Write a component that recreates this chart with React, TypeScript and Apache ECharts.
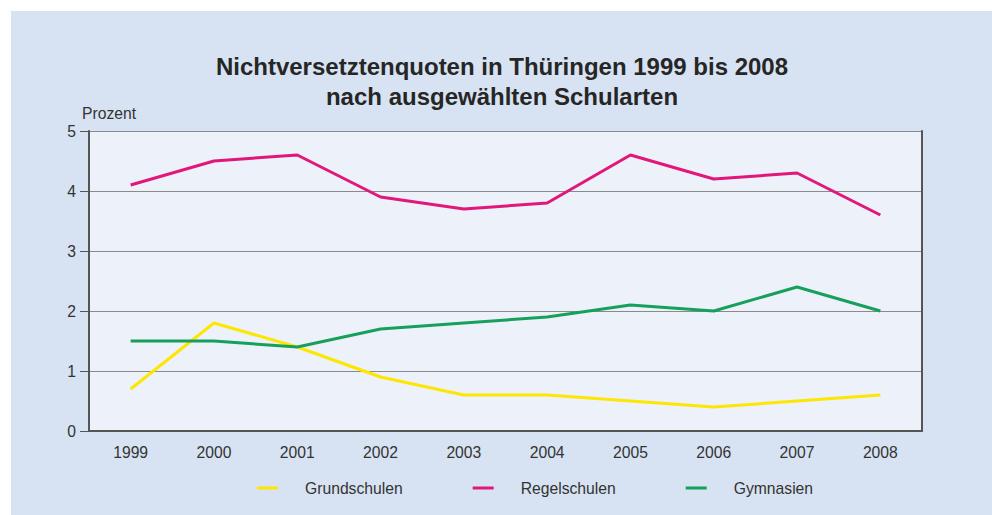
import React, { useEffect, useRef } from "react";
import * as echarts from "echarts";

const years = ["1999", "2000", "2001", "2002", "2003", "2004", "2005", "2006", "2007", "2008"];
const grundschulen = [0.7, 1.8, 1.4, 0.9, 0.6, 0.6, 0.5, 0.4, 0.5, 0.6];
const regelschulen = [4.1, 4.5, 4.6, 3.9, 3.7, 3.8, 4.6, 4.2, 4.3, 3.6];
const gymnasien = [1.5, 1.5, 1.4, 1.7, 1.8, 1.9, 2.1, 2.0, 2.4, 2.0];
const seriesNames = ["Grundschulen", "Regelschulen", "Gymnasien"];
const titleText = "Nichtversetztenquoten in Thüringen 1999 bis 2008\nnach ausgewählten Schularten";
const unitLabel = "Prozent";

const FONT = "'Liberation Sans', Arial, Helvetica, sans-serif";
const COLORS = ["#fde600", "#e2177b", "#17a05b"];

export default function App() {
  const ref = useRef<HTMLDivElement>(null);
  useEffect(() => {
    if (!ref.current) return;
    const chart = echarts.init(ref.current, undefined, { renderer: "svg" });
    const mk = (name: string, data: number[], color: string) => ({
      name,
      type: "line",
      data,
      symbol: "none",
      lineStyle: { color, width: 3 },
      itemStyle: { color },
      z: 3,
    });
    chart.setOption({
      animation: false,
      backgroundColor: "#d7e3f2",
      textStyle: { fontFamily: FONT },
      title: {
        text: titleText,
        left: 491,
        top: 40,
        padding: 0,
        textAlign: "center",
        textStyle: { fontFamily: FONT, fontSize: 24, fontWeight: "bold", lineHeight: 30, color: "#262626" },
      },
      legend: {
        left: 241,
        top: 464,
        itemWidth: 21,
        itemHeight: 3,
        itemGap: 70,
        icon: "rect",
        textStyle: { fontFamily: FONT, fontSize: 15.7, color: "#333", padding: [0, 0, 0, 22] },
        data: seriesNames,
      },
      graphic: [
        {
          type: "text",
          left: 71,
          top: 94,
          style: { text: unitLabel, font: `15.7px ${FONT}`, fill: "#333" },
        },
      ],
      grid: {
        left: 78,
        top: 120,
        right: 70,
        bottom: 84,
        show: true,
        backgroundColor: "#edf1fa",
        borderWidth: 0,
      },
      xAxis: {
        type: "category",
        data: years,
        boundaryGap: true,
        axisLine: { lineStyle: { color: "#555", width: 2 } },
        axisTick: { show: false },
        axisLabel: { fontFamily: FONT, fontSize: 15.7, color: "#333", margin: 13 },
      },
      yAxis: [
        {
          type: "value",
          min: 0,
          max: 5,
          interval: 1,
          axisLine: { show: true, lineStyle: { color: "#555", width: 2 } },
          axisTick: { show: true, length: 9, lineStyle: { color: "#555", width: 1 } },
          axisLabel: { fontFamily: FONT, fontSize: 15.7, color: "#333", margin: 13 },
          splitLine: { show: true, lineStyle: { color: "#8a8a8a", width: 1 } },
        },
        {
          type: "value",
          min: 0,
          max: 5,
          interval: 1,
          position: "right",
          axisLine: { show: true, lineStyle: { color: "#555", width: 2 } },
          axisTick: { show: false },
          axisLabel: { show: false },
          splitLine: { show: false },
        },
      ],
      series: [
        mk(seriesNames[0], grundschulen, COLORS[0]),
        mk(seriesNames[1], regelschulen, COLORS[1]),
        mk(seriesNames[2], gymnasien, COLORS[2]),
      ],
    });
    return () => chart.dispose();
  }, []);
  return (
    <div style={{ position: "fixed", left: 0, top: 0, width: 992, height: 515, background: "#fff" }}>
      <div ref={ref} style={{ position: "absolute", left: 11, top: 11, width: 981, height: 504 }} />
    </div>
  );
}
